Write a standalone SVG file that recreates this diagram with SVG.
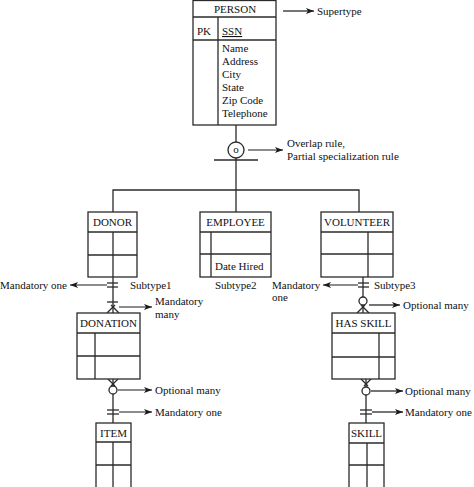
<svg xmlns="http://www.w3.org/2000/svg" width="474" height="487" viewBox="0 0 474 487">
<defs>
<marker id="ah" markerWidth="8" markerHeight="6" refX="8" refY="3" orient="auto" markerUnits="userSpaceOnUse">
<path d="M0,0 L8,3 L0,6 L2,3 Z" fill="#1a1a1a"/>
</marker>
<style>
.b{fill:#fff;stroke:#2a2a2a;stroke-width:1.3}
.l{fill:none;stroke:#2a2a2a;stroke-width:1.3}
.a{fill:none;stroke:#1a1a1a;stroke-width:1.2;marker-end:url(#ah)}
text{font-family:"Liberation Serif","Times New Roman",serif;font-size:11px;fill:#111}
.c{text-anchor:middle}
.e{text-anchor:end}
</style>
</defs>
<rect width="474" height="487" fill="#fff"/>
<g id="connectors">
<line class="l" x1="236" y1="125" x2="236" y2="142"/>
<line class="l" x1="236" y1="158" x2="236" y2="212"/>
<line class="l" x1="214" y1="160" x2="258" y2="160"/>
<polyline class="l" points="113,212 113,190 359,190 359,212"/>
<line class="l" x1="113" y1="277" x2="113" y2="313"/>
<line class="l" x1="107" y1="283" x2="118" y2="283"/>
<line class="l" x1="107" y1="287" x2="118" y2="287"/>
<line class="l" x1="107" y1="302" x2="118" y2="302"/>
<line class="l" x1="115" y1="305" x2="107" y2="313"/>
<line class="l" x1="111" y1="305" x2="119" y2="313"/>
<line class="l" x1="113" y1="379" x2="113" y2="386"/>
<line class="l" x1="113" y1="394" x2="113" y2="423"/>
<line class="l" x1="108" y1="379" x2="115" y2="386"/>
<line class="l" x1="118" y1="379" x2="111" y2="386"/>
<circle class="l" cx="113" cy="390" r="4"/>
<line class="l" x1="107" y1="410" x2="119" y2="410"/>
<line class="l" x1="107" y1="414" x2="119" y2="414"/>
<line class="l" x1="363" y1="277" x2="363" y2="297"/>
<line class="l" x1="363" y1="305" x2="363" y2="313"/>
<line class="l" x1="358" y1="283" x2="369" y2="283"/>
<line class="l" x1="358" y1="287" x2="369" y2="287"/>
<circle class="l" cx="363" cy="301" r="4"/>
<line class="l" x1="365" y1="305" x2="357" y2="313"/>
<line class="l" x1="361" y1="305" x2="369" y2="313"/>
<line class="l" x1="366" y1="379" x2="366" y2="387"/>
<line class="l" x1="366" y1="395" x2="366" y2="423"/>
<line class="l" x1="361" y1="379" x2="368" y2="386"/>
<line class="l" x1="371" y1="379" x2="364" y2="386"/>
<circle class="l" cx="366" cy="391" r="4"/>
<line class="l" x1="360" y1="410" x2="372" y2="410"/>
<line class="l" x1="360" y1="414" x2="372" y2="414"/>
<line class="a" x1="283" y1="11" x2="314" y2="11"/>
<line class="a" x1="248" y1="150" x2="283" y2="150"/>
<line class="a" x1="107" y1="285" x2="70" y2="285"/>
<line class="a" x1="119" y1="307" x2="152" y2="307"/>
<line class="a" x1="118" y1="390" x2="152" y2="390"/>
<line class="a" x1="119" y1="412" x2="152" y2="412"/>
<line class="a" x1="358" y1="285" x2="323" y2="285"/>
<line class="a" x1="369" y1="305" x2="400" y2="305"/>
<line class="a" x1="371" y1="391" x2="403" y2="391"/>
<line class="a" x1="372" y1="412" x2="403" y2="412"/>
</g>
<g id="specialization">
<circle class="b" cx="236" cy="150" r="8"/>
<text class="c" x="236" y="153">o</text>
</g>
<g id="person">
<rect class="b" x="193" y="0.5" width="83" height="124.5"/>
<line class="l" x1="193" y1="17" x2="276" y2="17"/>
<line class="l" x1="193" y1="40" x2="276" y2="40"/>
<line class="l" x1="218" y1="17" x2="218" y2="125"/>
<text class="c" x="235" y="13">PERSON</text>
<text x="197" y="35">PK</text>
<text x="222" y="35" text-decoration="underline">SSN</text>
<text x="222" y="52">Name</text>
<text x="222" y="65">Address</text>
<text x="222" y="78">City</text>
<text x="222" y="91">State</text>
<text x="222" y="104">Zip Code</text>
<text x="222" y="117">Telephone</text>
</g>
<g id="donor">
<rect class="b" x="88" y="212" width="49" height="65"/>
<line class="l" x1="88" y1="232" x2="137" y2="232"/>
<line class="l" x1="88" y1="255" x2="137" y2="255"/>
<line class="l" x1="113" y1="232" x2="113" y2="277"/>
<text class="c" x="112.5" y="226">DONOR</text>
</g>
<g id="employee">
<rect class="b" x="200" y="212" width="71" height="65"/>
<line class="l" x1="200" y1="232" x2="271" y2="232"/>
<line class="l" x1="200" y1="254" x2="271" y2="254"/>
<line class="l" x1="211" y1="232" x2="211" y2="277"/>
<text class="c" x="235.5" y="226">EMPLOYEE</text>
<text x="215" y="270">Date Hired</text>
</g>
<g id="volunteer">
<rect class="b" x="321" y="212" width="72" height="65"/>
<line class="l" x1="321" y1="232" x2="393" y2="232"/>
<line class="l" x1="321" y1="254" x2="393" y2="254"/>
<line class="l" x1="368" y1="232" x2="368" y2="277"/>
<text class="c" x="357" y="226">VOLUNTEER</text>
</g>
<g id="donation">
<rect class="b" x="77" y="313" width="63" height="66"/>
<line class="l" x1="77" y1="333" x2="140" y2="333"/>
<line class="l" x1="77" y1="356" x2="140" y2="356"/>
<line class="l" x1="95" y1="333" x2="95" y2="379"/>
<text class="c" x="108.5" y="327">DONATION</text>
</g>
<g id="hasskill">
<rect class="b" x="332" y="313" width="63" height="66"/>
<line class="l" x1="332" y1="333" x2="395" y2="333"/>
<line class="l" x1="332" y1="357" x2="395" y2="357"/>
<line class="l" x1="379" y1="333" x2="379" y2="379"/>
<text class="c" x="363.5" y="327">HAS SKILL</text>
</g>
<g id="item">
<rect class="b" x="96" y="423" width="35" height="70"/>
<line class="l" x1="96" y1="442" x2="131" y2="442"/>
<line class="l" x1="96" y1="465" x2="131" y2="465"/>
<line class="l" x1="113" y1="442" x2="113" y2="487"/>
<text class="c" x="113.5" y="437">ITEM</text>
</g>
<g id="skill">
<rect class="b" x="349" y="423" width="35" height="70"/>
<line class="l" x1="349" y1="443" x2="384" y2="443"/>
<line class="l" x1="349" y1="465" x2="384" y2="465"/>
<line class="l" x1="367" y1="443" x2="367" y2="487"/>
<text class="c" x="366.5" y="437">SKILL</text>
</g>
<g id="labels">
<text x="317" y="15">Supertype</text>
<text x="287" y="147">Overlap rule,</text>
<text x="287" y="160">Partial specialization rule</text>
<text class="e" x="67" y="289">Mandatory one</text>
<text x="130" y="289">Subtype1</text>
<text x="215" y="289">Subtype2</text>
<text x="272" y="289">Mandatory</text>
<text x="272" y="301">one</text>
<text x="374" y="289">Subtype3</text>
<text x="155" y="305">Mandatory</text>
<text x="155" y="318">many</text>
<text x="403" y="309">Optional many</text>
<text x="155" y="394">Optional many</text>
<text x="155" y="416">Mandatory one</text>
<text x="405" y="395">Optional many</text>
<text x="405" y="416">Mandatory one</text>
</g>
</svg>
